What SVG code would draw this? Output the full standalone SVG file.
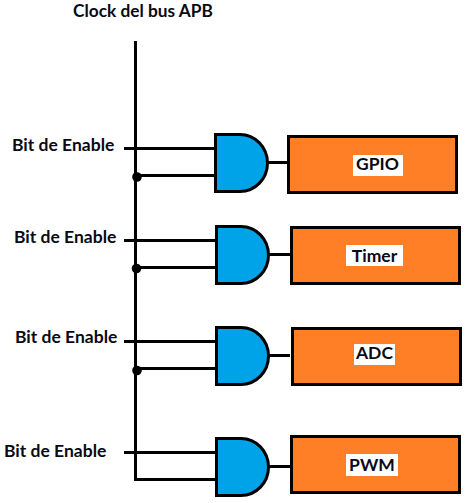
<svg xmlns="http://www.w3.org/2000/svg" width="467" height="503" viewBox="0 0 467 503">
<style>
text{font-family:Lato,"Open Sans","Liberation Sans",sans-serif;font-weight:700;font-size:17.500px;fill:#0a0a14}
.c{text-anchor:middle}
.g{fill:#00a2e8;stroke:#000;stroke-width:3}
.b{fill:#ff7f27;stroke:#000;stroke-width:3}
.l{fill:#fff}
</style>
<rect width="467" height="503" fill="#fff"/>
<text id="clock-label" x="73" y="17" style="font-size:17.300px">Clock del bus APB</text>
<g id="connectors" fill="none" stroke="#000" stroke-width="3">
<path d="M135.500 41V479.500H216"/>
<path d="M124 148.500H215M135 175.500H215M268 162.500H288"/>
<path d="M124 240.500H216M135 267.500H216M269 254.500H291"/>
<path d="M124 341.500H216M135 368.500H216M269 355.500H290"/>
<path d="M124 452.500H216M269 466.500H291"/>
<circle cx="137" cy="177" r="4.800" fill="#000" stroke="none"/>
<circle cx="136.500" cy="268.500" r="4.800" fill="#000" stroke="none"/>
<circle cx="137" cy="370.500" r="4.800" fill="#000" stroke="none"/>
</g>
<g id="enable-1"><text x="12" y="151">Bit de Enable</text></g>
<g id="enable-2"><text x="14" y="243">Bit de Enable</text></g>
<g id="enable-3"><text x="15" y="343">Bit de Enable</text></g>
<g id="enable-4"><text x="4" y="457">Bit de Enable</text></g>
<g id="and-1"><path class="g" d="M215.500 134.500H240A27.500 28.500 0 0 1 240 191.500H215.500Z"/></g>
<g id="and-2"><path class="g" d="M216.500 226.500H241A27.500 28.500 0 0 1 241 283.500H216.500Z"/></g>
<g id="and-3"><path class="g" d="M216.500 327.500H241A27.500 28.500 0 0 1 241 384.500H216.500Z"/></g>
<g id="and-4"><path class="g" d="M216.500 438.500H241A27.500 28.500 0 0 1 241 495.500H216.500Z"/></g>
<g id="gpio"><rect class="b" x="288.500" y="136.500" width="168" height="56"/><rect class="l" x="353" y="155" width="50" height="21"/><text class="c" x="377.500" y="170">GPIO</text></g>
<g id="timer"><rect class="b" x="291.500" y="227.500" width="168" height="56"/><rect class="l" x="346" y="245" width="57" height="21"/><text class="c" x="374.500" y="262">Timer</text></g>
<g id="adc"><rect class="b" x="292.500" y="328.500" width="168" height="56"/><rect class="l" x="354" y="344" width="41" height="21"/><text class="c" x="374.500" y="359">ADC</text></g>
<g id="pwm"><rect class="b" x="291.500" y="436.500" width="168" height="56"/><rect class="l" x="346" y="454" width="52" height="22"/><text class="c" x="372" y="471">PWM</text></g>
</svg>
